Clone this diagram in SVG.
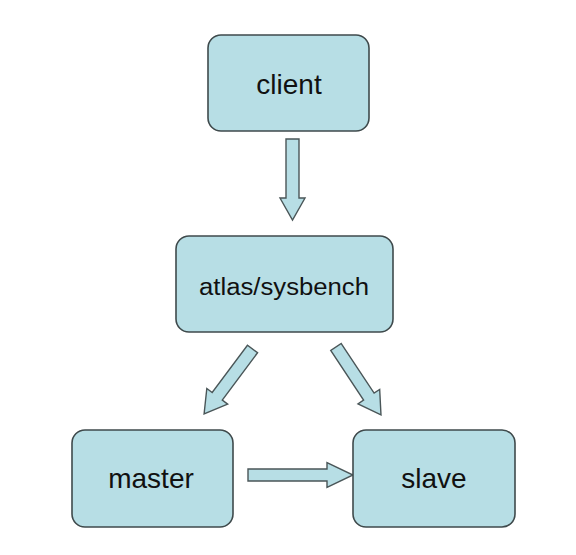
<svg xmlns="http://www.w3.org/2000/svg" width="576" height="555" viewBox="0 0 576 555">
<style>
.box{fill:#b7dee5;stroke:#3f4a4c;stroke-width:1.6}
.arr{fill:#b7dee5;stroke:#4a5658;stroke-width:1.4;stroke-linejoin:miter}
.lbl{font-family:"Liberation Sans",Arial,sans-serif;fill:#111;text-anchor:middle}
</style>
<rect width="576" height="555" fill="#ffffff"/>
<g id="connectors">
<polygon class="arr" transform="translate(292.5,139) rotate(90)" points="0,-6.5 59,-6.5 59,-12.5 81,0 59,12.5 59,6.5 0,6.5"/>
<polygon class="arr" transform="translate(252.5,349) rotate(126.7)" points="0,-6.3 59,-6.3 59,-13 81,0 59,13 59,6.3 0,6.3"/>
<polygon class="arr" transform="translate(336,347) rotate(56.5)" points="0,-6.3 59.5,-6.3 59.5,-13 81.5,0 59.5,13 59.5,6.3 0,6.3"/>
<polygon class="arr" transform="translate(248,475)" points="0,-6 79,-6 79,-12.5 105,0 79,12.5 79,6 0,6"/>
</g>
<g id="client">
<rect class="box" x="208" y="35" width="161" height="96" rx="13"/>
<text class="lbl" x="289" y="94" font-size="28">client</text>
</g>
<g id="atlas">
<rect class="box" x="176" y="236" width="217" height="96" rx="13"/>
<text class="lbl" x="284" y="295" font-size="23" textLength="170" lengthAdjust="spacingAndGlyphs">atlas/sysbench</text>
</g>
<g id="master">
<rect class="box" x="72" y="430" width="161" height="97" rx="13"/>
<text class="lbl" x="151" y="488" font-size="28">master</text>
</g>
<g id="slave">
<rect class="box" x="353" y="430" width="162" height="97" rx="13"/>
<text class="lbl" x="434" y="488" font-size="28">slave</text>
</g>
</svg>
